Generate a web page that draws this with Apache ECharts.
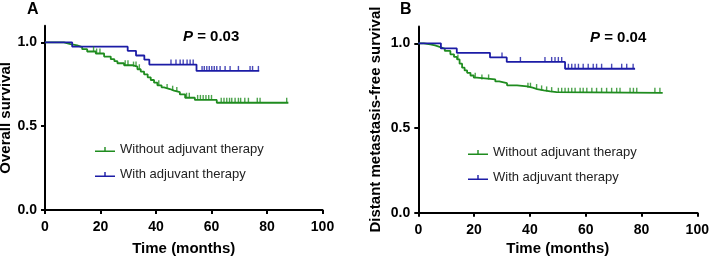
<!DOCTYPE html>
<html>
<head>
<meta charset="utf-8">
<script src="https://cdn.jsdelivr.net/npm/echarts@6/dist/echarts.min.js"></script>
<style>
  html, body { margin: 0; padding: 0; background: #fff; }
  #chart { width: 709px; height: 259px; }
</style>
</head>
<body>
<div id="chart"></div>
<script>
// group names
const groupNames = ["Without adjuvant therapy", "With adjuvant therapy"];
const yTicks = [0, 0.5, 1];

// panel A: overall survival, [months, survival] after each event
const osWithout = [[0, 1], [6.8, 0.99], [9.2, 0.982], [11.6, 0.972], [13.4, 0.96], [15.2, 0.946],
  [18.3, 0.934], [21.3, 0.916], [23.7, 0.9], [25, 0.888], [26.1, 0.876], [28.5, 0.864],
  [31.5, 0.856], [33.3, 0.84], [34.5, 0.826], [35.7, 0.81], [37, 0.792], [38.1, 0.776],
  [39.3, 0.76], [40.5, 0.744], [42, 0.732], [42.9, 0.722], [45, 0.712], [46.5, 0.704],
  [48.6, 0.69], [50.5, 0.67], [54, 0.657], [61.9, 0.64], [87.7, 0.64]];
const osWith = [[0, 1], [9.8, 0.975], [29.8, 0.95], [32.8, 0.922], [35.8, 0.897],
  [37.6, 0.868], [54.6, 0.83], [77.2, 0.83]];
const osWithoutCensor = [17.5, 18.6, 19.8, 28.9, 29.9, 31.9, 32.8, 34, 41, 44, 46, 47.5, 51,
  52, 55, 56, 57, 58, 59, 60, 63.5, 64.5, 65.5, 66.5, 67.3, 68.5, 69.7, 70.5, 72, 73.3,
  76.5, 77.5, 87.1];
const osWithCensor = [45.4, 47.2, 48.7, 49.8, 51.2, 52.3, 53.4, 56.6, 57.4, 58.3, 59.2, 60.1,
  61, 61.9, 63.1, 64.9, 66.7, 69.7, 73.9, 74.8, 76.9];

// panel B: distant metastasis-free survival
const dmfsWithout = [[0, 1], [2, 0.994], [4.3, 0.988], [6, 0.978], [7.9, 0.968], [9.5, 0.955],
  [11.5, 0.935], [12.8, 0.92], [13.9, 0.905], [14.8, 0.88], [15.7, 0.856], [16.6, 0.84],
  [17.5, 0.826], [18.7, 0.81], [19.9, 0.797], [21, 0.787], [27.6, 0.775], [29, 0.765],
  [31.8, 0.752], [35.4, 0.746], [39, 0.738], [41, 0.73], [42.6, 0.722], [45, 0.716],
  [47.3, 0.712], [49.6, 0.708], [87.6, 0.708]];
const dmfsWith = [[0, 1], [8.1, 0.97], [13.8, 0.944], [25.7, 0.917], [31.7, 0.89],
  [52.6, 0.85], [77.7, 0.85]];
const dmfsWithoutCensor = [14.2, 20.4, 22.8, 25.2, 39.3, 40.2, 42.4, 44.2, 46, 47.8, 50.2, 51.4,
  52.6, 53.8, 55, 56.2, 58, 59.1, 60.4, 62.2, 63.9, 65.7, 67.5, 69.3, 71.1, 72.3, 75.9,
  77.1, 78.3, 84.8, 86.6];
const dmfsWithCensor = [30, 36.6, 45.4, 47.8, 49, 50.2, 51.4, 53.8, 55, 56.2, 57.4, 59.1, 60.9,
  62.7, 63.9, 65.7, 69.3, 72.9, 74.7, 77];

const colors = ["#1f8c1f", "#1c1ca6"];
const font = "Liberation Sans, Arial, sans-serif";

// survival value of a step curve at time t
function survivalAt(steps, t) {
  let s = steps[0][1];
  for (const p of steps) {
    if (p[0] <= t) s = p[1];
  }
  return s;
}

function curve(name, steps, color, idx) {
  return {
    name: name,
    type: "line",
    step: "end",
    xAxisIndex: idx,
    yAxisIndex: idx,
    data: steps,
    showSymbol: false,
    color: color,
    lineStyle: { width: 1.8, color: color },
    z: 3
  };
}

function censor(steps, times, color, idx) {
  return {
    name: "censor" + idx + color,
    type: "scatter",
    xAxisIndex: idx,
    yAxisIndex: idx,
    data: times.map(t => [t, survivalAt(steps, t)]),
    symbol: "rect",
    symbolSize: [1.4, 5],
    symbolOffset: [0, -2.5],
    itemStyle: { color: color },
    z: 4
  };
}

function xAxisFor(idx, gap) {
  return {
    gridIndex: idx,
    type: "value",
    min: 0,
    max: 100,
    interval: 20,
    name: "Time (months)",
    nameLocation: "middle",
    nameGap: gap,
    nameTextStyle: { fontSize: 15, fontWeight: "bold", color: "#000", fontFamily: font },
    axisLine: { lineStyle: { color: "#000", width: 2 } },
    axisTick: { length: 4, lineStyle: { color: "#000", width: 2 } },
    axisLabel: { margin: 10, fontSize: 14, fontWeight: "bold", color: "#000", fontFamily: font },
    splitLine: { show: false }
  };
}

function yAxisFor(idx, name, gap) {
  return {
    gridIndex: idx,
    type: "value",
    min: 0,
    max: 1.1,
    name: name,
    nameLocation: "middle",
    nameGap: gap,
    nameTextStyle: { fontSize: 15, fontWeight: "bold", color: "#000", fontFamily: font },
    axisLine: { show: true, lineStyle: { color: "#000", width: 2 } },
    axisTick: { show: true, length: 4, customValues: yTicks, lineStyle: { color: "#000", width: 2 } },
    axisLabel: {
      margin: 8, fontSize: 14, fontWeight: "bold", color: "#000", fontFamily: font,
      customValues: yTicks,
      formatter: v => v.toFixed(1)
    },
    splitLine: { show: false }
  };
}

const legendIcon = "path://M0,3.5 L20,3.5 L20,5 L0,5 Z M9.3,0 L10.7,0 L10.7,3.5 L9.3,3.5 Z";

function legendFor(left, top) {
  return {
    data: groupNames,
    orient: "vertical",
    left: left,
    top: top,
    icon: legendIcon,
    itemWidth: 20,
    itemHeight: 5,
    itemGap: 12,
    selectedMode: false,
    textStyle: { fontSize: 13, color: "#222", fontFamily: font }
  };
}

const chart = echarts.init(document.getElementById("chart"));
chart.setOption({
  animation: false,
  textStyle: { fontFamily: font },
  grid: [
    { left: 45, top: 25.7, width: 277.5, height: 184.3, outerBoundsMode: "none" },
    { left: 418.3, top: 26.4, width: 279, height: 186.3, outerBoundsMode: "none" }
  ],
  xAxis: [xAxisFor(0, 31), xAxisFor(1, 28)],
  yAxis: [yAxisFor(0, "Overall survival", 30), yAxisFor(1, "Distant metastasis-free survival", 35)],
  legend: [legendFor(90, 138), legendFor(463, 141)],
  graphic: [
    { type: "text", left: 27, top: 2, style: { text: "A", fontSize: 16, fontWeight: "bold", fill: "#000", fontFamily: font } },
    { type: "text", left: 400, top: 2, style: { text: "B", fontSize: 16, fontWeight: "bold", fill: "#000", fontFamily: font } },
    {
      type: "text", left: 183, top: 29,
      style: {
        text: "{i|P} = 0.03", fontSize: 15, fontWeight: "bold", fill: "#000", fontFamily: font,
        rich: { i: { fontStyle: "italic", fontWeight: "bold", fontSize: 15, fontFamily: font } }
      }
    },
    {
      type: "text", left: 590, top: 30,
      style: {
        text: "{i|P} = 0.04", fontSize: 15, fontWeight: "bold", fill: "#000", fontFamily: font,
        rich: { i: { fontStyle: "italic", fontWeight: "bold", fontSize: 15, fontFamily: font } }
      }
    }
  ],
  series: [
    curve(groupNames[0], osWithout, colors[0], 0),
    curve(groupNames[1], osWith, colors[1], 0),
    censor(osWithout, osWithoutCensor, colors[0], 0),
    censor(osWith, osWithCensor, colors[1], 0),
    curve(groupNames[0], dmfsWithout, colors[0], 1),
    curve(groupNames[1], dmfsWith, colors[1], 1),
    censor(dmfsWithout, dmfsWithoutCensor, colors[0], 1),
    censor(dmfsWith, dmfsWithCensor, colors[1], 1)
  ]
});
</script>
</body>
</html>
